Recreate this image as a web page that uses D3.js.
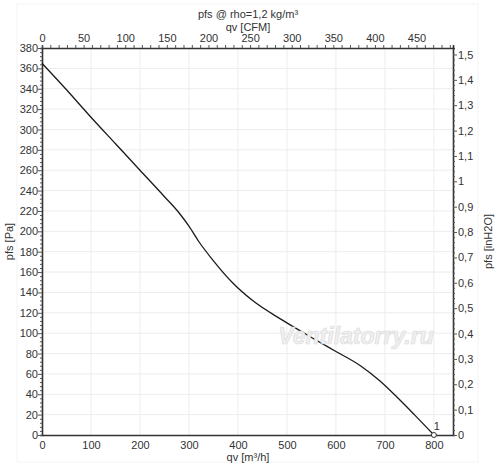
<!DOCTYPE html>
<html>
<head>
<meta charset="utf-8">
<title>pfs curve</title>
<script src="https://cdn.jsdelivr.net/npm/d3@7"></script>
<style>
	body { margin: 0; background: #fff; }
	svg text { font-family: "Liberation Sans", Arial, sans-serif; font-size: 11px; fill: #333; }
</style>
</head>
<body>
<div id="chart"></div>
<script>

// curve: qv [m3/h] vs pfs [Pa]
var qv  = [0, 50, 100, 150, 200, 250, 280, 300, 320, 350, 390, 430, 490, 560, 600, 650, 690, 725, 760, 800];
var pfs = [365, 339, 312, 286, 260, 234, 218, 205, 190, 171, 149, 132, 113, 93, 82, 68, 53, 37, 20, 0];

var qvTicks  = [0, 100, 200, 300, 400, 500, 600, 700, 800];
var cfmTicks = [0, 50, 100, 150, 200, 250, 300, 350, 400, 450];
var paTicks  = d3.range(0, 381, 20);
var inTicks  = [0, 0.1, 0.2, 0.3, 0.4, 0.5, 0.6, 0.7, 0.8, 0.9, 1, 1.1, 1.2, 1.3, 1.4, 1.5];

var M3H_PER_CFM = 1.699;
var PA_PER_INH2O = 249.09;

var width = 500, height = 472;
var plotL = 42, plotR = 453, plotT = 48, plotB = 435;
var qMax = 839, pMax = 380;

var svg = d3.select("#chart").append("svg")
	.attr("width", width)
	.attr("height", height);

// faint frame round the whole chart
svg.append("rect")
	.attr("x", 17).attr("y", 4)
	.attr("width", 461).attr("height", 458)
	.attr("fill", "none")
	.attr("stroke", "#f3f3f3");

var x = d3.scaleLinear().domain([0, qMax]).range([plotL, plotR]);
var xTop = d3.scaleLinear().domain([0, qMax / M3H_PER_CFM]).range([plotL, plotR]);
var y = d3.scaleLinear().domain([0, pMax]).range([plotB, plotT]);
var yRight = d3.scaleLinear().domain([0, pMax / PA_PER_INH2O]).range([plotB, plotT]);

var comma = function(d){ return String(+d.toFixed(2)).replace(".", ","); };
var isMajor = function(d){ return inTicks.some(function(t){ return Math.abs(t - d) < 1e-6; }); };

// grid
var grid = svg.append("g").attr("stroke", "#ececec").attr("stroke-width", 1);
grid.selectAll(".gx").data(qvTicks.filter(function(d){ return d > 0; })).enter()
	.append("line")
	.attr("x1", function(d){ return x(d); }).attr("x2", function(d){ return x(d); })
	.attr("y1", plotT).attr("y2", plotB);
grid.selectAll(".gy").data(paTicks.filter(function(d){ return d > 0 && d < pMax; })).enter()
	.append("line")
	.attr("y1", function(d){ return y(d); }).attr("y2", function(d){ return y(d); })
	.attr("x1", plotL).attr("x2", plotR);

// axes
var bottomAxis = d3.axisBottom(x).tickValues(qvTicks).tickSize(0).tickPadding(6);
var topAxis = d3.axisTop(xTop).tickValues(d3.range(0, 491, 10)).tickSize(3).tickPadding(3)
	.tickFormat(function(d){ return cfmTicks.indexOf(d) >= 0 ? d : ""; });
var leftAxis = d3.axisLeft(y).tickValues(d3.range(0, 381, 4)).tickSize(2).tickPadding(2)
	.tickFormat(function(d){ return d % 20 == 0 ? d : ""; });
var rightAxis = d3.axisRight(yRight).tickValues(d3.range(0, 76).map(function(i){ return i * 0.02; })).tickSize(2).tickPadding(3)
	.tickFormat(function(d){ return isMajor(d) ? comma(d) : ""; });

function styleAxis(g){
	g.select(".domain").attr("stroke", "#333").attr("stroke-width", 1.6);
	g.selectAll(".tick line").attr("stroke", "#555");
	g.selectAll("text").attr("font-family", null).attr("font-size", null).attr("fill", "#333");
}

svg.append("g").attr("transform", "translate(0," + plotB + ")").call(bottomAxis).call(styleAxis);
svg.append("g").attr("transform", "translate(0," + plotT + ")").call(topAxis).call(styleAxis);
var la = svg.append("g").attr("transform", "translate(" + plotL + ",0)").call(leftAxis).call(styleAxis);
var ra = svg.append("g").attr("transform", "translate(" + plotR + ",0)").call(rightAxis).call(styleAxis);

// major ticks a bit longer
la.selectAll(".tick").filter(function(d){ return d % 20 == 0; }).select("line").attr("x2", -4);
ra.selectAll(".tick").filter(function(d){ return isMajor(d); }).select("line").attr("x2", 4);

// curve
var line = d3.line()
	.x(function(d){ return x(d[0]); })
	.y(function(d){ return y(d[1]); })
	.curve(d3.curveMonotoneX);

var pts = qv.map(function(q, i){ return [q, pfs[i]]; });

svg.append("path")
	.datum(pts)
	.attr("fill", "none")
	.attr("stroke", "#1a1a1a")
	.attr("stroke-width", 1.3)
	.attr("d", line);

// operating point marker
var last = pts[pts.length - 1];
svg.append("circle")
	.attr("cx", x(last[0])).attr("cy", y(last[1]))
	.attr("r", 2.5)
	.attr("fill", "#fff").attr("stroke", "#333");
svg.append("text")
	.attr("x", x(last[0]) + 3).attr("y", y(last[1]) - 5)
	.attr("text-anchor", "middle")
	.text("1");

// watermark
svg.append("text")
	.attr("x", 356).attr("y", 344)
	.attr("text-anchor", "middle")
	.style("font-size", "23px")
	.style("font-style", "italic")
	.style("font-weight", "bold")
	.style("fill", "#f0f0f0")
	.style("stroke", "#dcdcdc")
	.style("stroke-width", 0.7)
	.text("Ventilatorry.ru");

// titles
svg.append("text").attr("x", 248).attr("y", 18).attr("text-anchor", "middle").text("pfs @ rho=1,2 kg/m³");
svg.append("text").attr("x", 248).attr("y", 31).attr("text-anchor", "middle").text("qv [CFM]");
svg.append("text").attr("x", 248).attr("y", 461).attr("text-anchor", "middle").text("qv [m³/h]");
svg.append("text")
	.attr("transform", "translate(13," + ((plotT + plotB) / 2) + ") rotate(-90)")
	.attr("text-anchor", "middle").text("pfs [Pa]");
svg.append("text")
	.attr("transform", "translate(492," + ((plotT + plotB) / 2) + ") rotate(-90)")
	.attr("text-anchor", "middle").text("pfs [inH2O]");

</script>
</body>
</html>
